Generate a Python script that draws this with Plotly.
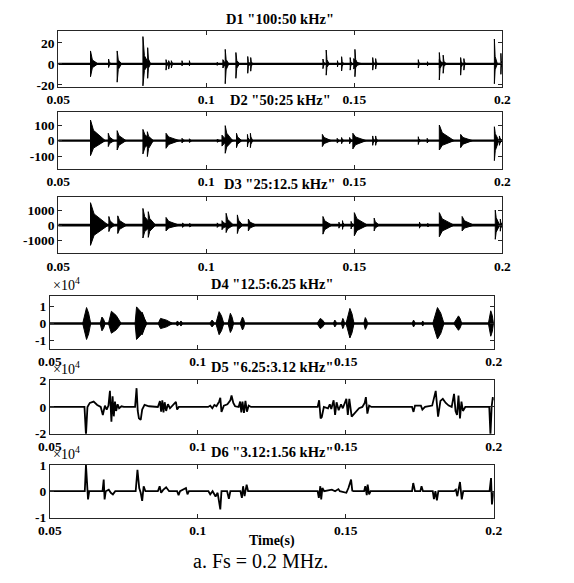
import numpy as np
import plotly.graph_objects as go

W, H = 574, 583
FONT = "Liberation Serif"
AX = "#262626"

# ---------------- data ----------------
# Bursts of the high-frequency detail bands: onset (ms), decay end (ms), positive and negative peak
d1_start = [60.9, 67.0, 69.9, 78.6, 79.0, 80.2, 86.4, 87.3, 88.2, 91.8, 94.3, 103.7, 105.6, 106.4,
            110.0, 114.0, 115.0, 139.4, 140.5, 144.3, 145.7, 148.6, 149.8, 150.2, 156.2, 157.2,
            171.6, 174.7, 178.7, 178.7, 180.0, 185.9, 187.0, 197.3, 199.5]
d1_end = [63.4, 68.0, 71.4, 80.6, 81.5, 81.2, 87.4, 88.3, 89.2, 92.4, 94.9, 104.5, 108.1, 107.6,
          111.2, 114.8, 115.8, 140.4, 141.5, 144.9, 146.5, 149.4, 152.8, 151.2, 157.0, 158.0,
          172.4, 175.3, 181.7, 179.7, 181.0, 186.7, 187.8, 198.3, 200.0]
d1_hi = [12.3, 4.6, 12.3, 26, 4, 15.4, 4, 3, 3, 3, 3, 1.5, 4, 13.8, 10.8, 7, 6, 4.6, 13.2, 3, 6.8,
         6, 5, 13.8, 6, 5, 4, 2, 4, 10.8, 8.3, 6, 5, 23.7, 10]
d1_lo = [-12.3, -3.5, -17.5, -21, -4, -13.8, -6, -5, -4, -2, -2, -1.5, -4, -19, -13.8, -9, -7,
         -4.6, -10.8, -3, -6.8, -6, -5, -12.3, -6, -5, -4, -2, -4, -15.4, -9, -10.8, -6, -19, -10]

d2_start = [60.9, 66.9, 69.9, 78.6, 80.1, 86.4, 91.8, 94.3, 103.7, 105.3, 106.4, 110.2, 113.9,
            114.9, 139.2, 144.2, 145.7, 148.4, 149.5, 156.2, 157.2, 171.6, 174.6, 178.7, 185.9,
            197.3, 199.0]
d2_end = [65.9, 68.9, 72.9, 82.1, 82.1, 90.9, 92.8, 95.1, 104.7, 109.3, 108.9, 112.0, 114.7,
          115.7, 142.2, 145.0, 146.5, 149.4, 154.0, 156.9, 157.9, 172.4, 175.2, 183.7, 189.9,
          198.8, 200.0]
d2_hi = [132, 47, 64, 72, 57, 47, 15, 12, 10, 35, 96, 47, 40, 47, 40, 15, 20, 20, 47, 30, 30, 25,
         15, 100, 40, 89, 30]
d2_lo = [-96, -38, -60, -85, -102, -49, -15, -12, -10, -35, -81, -45, -40, -45, -38, -15, -20,
         -20, -53, -30, -30, -25, -15, -60, -45, -128, -30]

d3_start = [60.9, 67.1, 70.1, 78.6, 80.4, 86.4, 92.0, 94.4, 103.7, 105.3, 106.7, 110.5, 114.2,
            139.4, 144.8, 146.0, 148.9, 150.0, 156.7, 172.0, 174.8, 178.7, 186.4, 197.6, 199.3]
d3_end = [66.9, 69.1, 73.1, 81.6, 82.9, 90.9, 93.0, 95.2, 104.7, 108.3, 109.2, 112.3, 116.9,
          142.4, 145.6, 146.8, 149.9, 154.5, 158.4, 172.8, 175.4, 183.7, 190.4, 199.1, 200.0]
d3_hi = [1490, 575, 618, 1108, 895, 511, 150, 120, 150, 300, 788, 681, 405, 575, 200, 300, 250,
         830, 468, 200, 120, 830, 575, 1000, 400]
d3_lo = [-1340, -425, -554, -852, -810, -383, -150, -120, -150, -300, -490, -554, -383, -596,
         -200, -277, -250, -703, -383, -200, -120, -767, -383, -937, -400]

# D4 bursts are spindle shaped: onset, peak time, end (ms) and peak levels (x1e4)
d4_start = [61.1, 67.0, 69.8, 78.8, 80.6, 86.6, 92.6, 93.8, 104.0, 106.1, 110.2, 114.3, 140.3,
            145.8, 148.5, 150.1, 156.1, 172.4, 175.6, 179.4, 186.5, 198.2]
d4_peak = [62.4, 67.6, 70.8, 79.3, 81.2, 87.4, 93.1, 94.3, 104.8, 107.2, 111.0, 115.1, 141.4,
           146.3, 149.0, 151.4, 156.6, 172.9, 176.0, 181.0, 188.1, 199.0]
d4_end = [63.8, 68.7, 74.1, 82.8, 82.2, 91.5, 93.6, 94.8, 105.6, 108.8, 112.1, 115.9, 143.0,
          146.9, 149.6, 152.8, 157.4, 173.5, 176.4, 183.2, 189.2, 200.0]
d4_hi = [0.94, 0.38, 0.72, 0.98, 0.66, 0.30, 0.15, 0.15, 0.20, 0.70, 0.60, 0.38, 0.30, 0.20, 0.30,
         0.89, 0.35, 0.20, 0.15, 0.94, 0.45, 0.75]
d4_lo = [-0.94, -0.43, -0.57, -0.94, -0.66, -0.30, -0.15, -0.15, -0.20, -0.66, -0.53, -0.38,
         -0.30, -0.20, -0.30, -0.85, -0.35, -0.20, -0.15, -0.91, -0.40, -0.75]

# Low-frequency bands as sampled waveforms: time (ms), value (x1e4)
d5_t = [50, 61.7, 62.2, 62.7, 63.5, 64.8, 66.0, 67.2, 67.9, 68.6, 69.2, 69.8, 70.3, 70.8, 71.2,
        71.6, 72.0, 72.4, 72.9, 73.4, 74.2, 75.0, 78.8, 79.3, 79.7, 80.1, 80.7, 81.2, 82.0, 83.5,
        86.5, 87.2, 87.6, 88.0, 88.4, 88.8, 89.3, 89.9, 90.6, 91.5, 92.6, 93.0, 93.6, 103.5,
        104.2, 104.9, 105.6, 106.3, 107.2, 107.6, 108.0, 108.8, 110.0, 111.0, 111.4, 112.0,
        112.6, 113.8, 114.3, 114.7, 115.1, 115.6, 116.1, 116.6, 117.2, 118.0, 140.5, 141.0,
        141.5, 141.9, 142.6, 144.0, 144.6, 145.1, 145.9, 146.4, 146.9, 147.6, 148.4, 149.0,
        150.2, 150.7, 151.2, 152.0, 153.2, 154.5, 155.6, 156.4, 156.8, 157.3, 157.9, 158.7,
        172.4, 172.9, 173.4, 175.4, 175.9, 176.8, 179.2, 180.4, 181.2, 182.0, 182.8, 183.8,
        184.8, 185.8, 186.6, 187.1, 187.6, 188.1, 188.6, 189.1, 189.6, 190.4, 198.5, 198.9,
        199.3, 199.7, 200.0]
d5_v = [0, 0, -2.1, 0, 0.3, 0.4, 0.15, 0, -0.6, 0.1, -0.2, 0.1, 1.2, -1.1, 0.8, -0.7, 0.4, -0.3,
        0.2, -0.1, 0.05, 0, 0, 1.4, -0.3, -0.85, -0.97, -0.2, 0.15, 0.05, 0, 0.44, -0.35, 0.5,
        -0.4, 0.35, -0.3, 0.2, -0.1, 0.1, 0.37, -0.2, 0, 0, 0.1, -0.1, 0.15, 0.05, 0.4, 0.68,
        -0.37, 0.1, 0.2, 0.5, 0.85, 0.3, 0.05, 0, 0.4, -0.4, 0.4, -0.45, 0.45, -0.35, 0.1, 0, 0,
        0.5, -0.85, -0.75, 0, -0.1, 0.2, -0.15, 0.5, -0.6, 0.35, -0.25, 0.2, -0.1, 0.6, -0.6,
        0.6, -0.73, -0.4, -0.1, 0, 0.3, 0.73, -0.5, 0.1, 0, 0, -0.37, 0.1, 0.1, -0.2, 0, 0.1,
        1.2, -0.73, 0.45, 0.6, 0.3, 0.1, 0, 0.97, -0.3, -0.6, 0.85, -0.85, 0.4, -0.3, 0, 0,
        -2.1, 0, 0.73, 0.5]

d6_t = [50, 61.8, 62.2, 62.6, 62.9, 63.3, 67.8, 68.2, 68.5, 68.9, 69.9, 70.6, 71.3, 72.1, 79.0,
        79.6, 80.2, 80.7, 81.2, 81.7, 82.3, 86.5, 87.1, 87.6, 88.3, 89.3, 90.3, 93.0, 93.5, 94.0,
        96.0, 96.5, 97.0, 103.6, 104.2, 105.0, 106.0, 106.7, 107.6, 108.0, 109.9, 110.5, 111.0,
        114.4, 114.9, 115.3, 115.8, 116.5, 117.0, 140.5, 140.9, 141.4, 141.7, 142.1, 142.7,
        145.3, 146.4, 147.5, 148.0, 150.2, 150.9, 151.8, 152.2, 152.6, 156.2, 156.6, 157.1,
        157.4, 157.9, 158.4, 172.4, 172.8, 173.4, 175.2, 175.6, 176.1, 179.4, 179.8, 180.3,
        180.8, 181.3, 186.6, 187.2, 187.7, 188.6, 189.2, 189.7, 198.6, 199.1, 199.4, 199.8,
        200.0]
d6_v = [0, 0, 1.0, 0, -0.31, 0, 0, 0.44, -0.31, 0, 0.06, -0.06, -0.12, 0, 0, 0.81, 0.12, -0.06,
        -0.37, 0.19, 0, 0, 0.19, -0.06, 0.05, 0.15, 0, 0, -0.15, 0, 0.12, -0.12, 0, 0, -0.12, 0,
        -0.2, -0.06, -0.69, 0, 0, -0.29, 0, 0, -0.25, 0.19, -0.19, 0.25, 0, 0, -0.25, 0.19,
        -0.31, 0.12, 0, 0.06, 0, 0.08, 0, -0.06, 0.12, 0.44, 0.02, 0, 0, 0.19, -0.15, 0.25,
        -0.12, 0, 0, 0.31, 0, 0, 0.19, 0, 0, -0.3, 0, -0.35, 0, 0, 0.06, -0.19, 0.35, -0.31, 0,
        0, 0.5, -0.5, 0, 0]

titles = ['D1 "100:50 kHz"', 'D2 "50:25 kHz"', 'D3 "25:12.5 kHz"',
          'D4 "12.5:6.25 kHz"', 'D5 "6.25:3.12 kHz"', 'D6 "3.12:1.56 kHz"']
x_ticks = [0.05, 0.1, 0.15, 0.2]
x_ticktext = ["0.05", "0.1", "0.15", "0.2"]
y_ticks = [[-20, 0, 20], [-100, 0, 100], [-1000, 0, 1000], [-1, 0, 1], [-2, 0, 2], [-1, 0, 1]]
y_ranges = [[-22, 31], [-180, 182], [-1880, 1870], [-1.5, 1.6], [-2, 2], [-1, 1]]

# ---------------- layout geometry (pixels) ----------------
frames = [  # x0, x1, ytop, ybottom
    (48, 509, 25, 82),
    (48, 509, 108, 166),
    (48, 509, 195, 253),
    (39.3, 500, 297, 351),
    (39.3, 500, 383, 438),
    (39.3, 500, 470, 524),
]


def xd(px):
    return px / W


def yd(py):
    return 1 - py / H


def burst_shapes(start, end, hi, lo, peak=None, knee_t=0.25, knee_a=0.3):
    """Filled envelope polygons (seconds) for a list of bursts."""
    xs, ys = [], []
    for i in range(len(start)):
        t0 = start[i] / 1000
        t1 = end[i] / 1000
        tp = (peak[i] if peak is not None else start[i]) / 1000
        tk = tp + knee_t * (t1 - tp)
        xs += [t0, tp, tk, t1, tk, tp, t0, None]
        ys += [0, hi[i], knee_a * hi[i], 0, knee_a * lo[i], lo[i], 0, None]
    return xs, ys


fig = go.Figure()

bursts = [
    burst_shapes(d1_start, d1_end, d1_hi, d1_lo),
    burst_shapes(d2_start, d2_end, d2_hi, d2_lo, knee_t=0.2, knee_a=0.5),
    burst_shapes(d3_start, d3_end, d3_hi, d3_lo, knee_t=0.2, knee_a=0.5),
    burst_shapes(d4_start, d4_end, d4_hi, d4_lo, peak=d4_peak, knee_t=0.5, knee_a=0.65),
]
base_w = [2.2, 2.2, 2.8, 2.5]

for i, (bx, by) in enumerate(bursts):
    ax = "" if i == 0 else str(i + 1)
    fig.add_trace(go.Scatter(x=[0.05, 0.2], y=[0, 0], mode="lines",
                             line=dict(color="black", width=base_w[i]),
                             xaxis="x" + ax, yaxis="y" + ax, hoverinfo="skip"))
    fig.add_trace(go.Scatter(x=bx, y=by, mode="lines", fill="toself", fillcolor="black",
                             line=dict(color="black", width=1),
                             xaxis="x" + ax, yaxis="y" + ax, hoverinfo="skip"))

for i, (tt, vv) in enumerate([(d5_t, d5_v), (d6_t, d6_v)]):
    ax = str(i + 5)
    fig.add_trace(go.Scatter(x=np.array(tt) / 1000, y=vv, mode="lines",
                             line=dict(color="black", width=1.8),
                             xaxis="x" + ax, yaxis="y" + ax, hoverinfo="skip"))

tickfont = dict(family=FONT, size=13.5, color="black", weight="bold")
layout = dict(
    width=W, height=H, margin=dict(l=0, r=0, t=0, b=0),
    paper_bgcolor="white", plot_bgcolor="white", showlegend=False,
)
annotations = []
for i, (x0, x1, yt, yb) in enumerate(frames):
    sfx = "" if i == 0 else str(i + 1)
    layout["xaxis" + sfx] = dict(
        domain=[xd(x0), xd(x1)], range=[0.05, 0.2], anchor="y" + sfx,
        showline=True, mirror="allticks", linecolor=AX, linewidth=1,
        ticks="inside", ticklen=4, tickcolor=AX,
        tickvals=x_ticks, ticktext=x_ticktext, tickfont=tickfont,
        showgrid=False, zeroline=False,
    )
    layout["yaxis" + sfx] = dict(
        domain=[yd(yb), yd(yt)], range=y_ranges[i], anchor="x" + sfx,
        showline=True, mirror="allticks", linecolor=AX, linewidth=1,
        ticks="inside", ticklen=4, tickcolor=AX,
        tickvals=y_ticks[i], ticktext=[str(v) for v in y_ticks[i]], tickfont=tickfont,
        showgrid=False, zeroline=False,
    )
    annotations.append(dict(
        text=titles[i], x=xd((x0 + x1) / 2), y=yd(yt - 13), xref="paper", yref="paper",
        showarrow=False, xanchor="center", yanchor="middle",
        font=dict(family=FONT, size=14.5, color="black", weight="bold"),
    ))
    if i >= 3:
        annotations.append(dict(
            text="×10<sup>4</sup>", x=xd(x0 + 1), y=yd(yt - 1), xref="paper", yref="paper",
            showarrow=False, xanchor="left", yanchor="bottom",
            font=dict(family=FONT, size=14, color="black"),
        ))

annotations.append(dict(
    text="Time(s)", x=xd(270), y=yd(548), xref="paper", yref="paper", showarrow=False,
    xanchor="center", yanchor="middle",
    font=dict(family=FONT, size=14, color="black", weight="bold"),
))
annotations.append(dict(
    text="a. Fs = 0.2 MHz.", x=xd(258), y=yd(569), xref="paper", yref="paper",
    showarrow=False, xanchor="center", yanchor="middle",
    font=dict(family=FONT, size=20, color="black"),
))
layout["annotations"] = annotations
fig.update_layout(**layout)

fig.write_html("out.html")
